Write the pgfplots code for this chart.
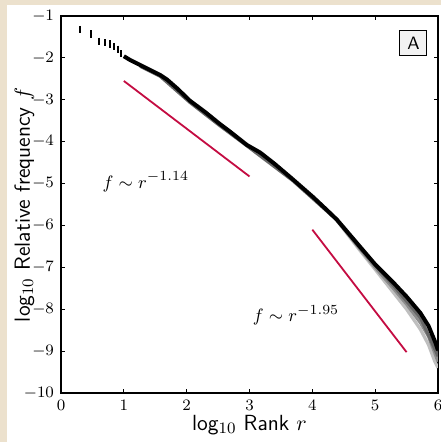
\documentclass[border=0pt]{standalone}
\usepackage{pgfplots}
\pgfplotsset{compat=1.18}

\definecolor{parch}{RGB}{236,225,205}
\definecolor{fitred}{RGB}{196,12,66}

% main rank-frequency curve (log10 r, log10 f)
\pgfplotstableread{
x y
1.00 -1.96
1.10 -2.05
1.26 -2.17
1.42 -2.29
1.58 -2.41
1.69 -2.52
1.85 -2.73
2.05 -3.02
2.30 -3.30
2.53 -3.58
2.69 -3.76
2.96 -4.08
3.17 -4.26
3.40 -4.53
3.69 -4.90
4.01 -5.32
4.23 -5.63
4.39 -5.86
4.76 -6.51
5.00 -6.93
5.30 -7.38
5.50 -7.70
5.72 -8.09
5.85 -8.40
5.96 -8.80
6.00 -8.98
}\maincurve

\begin{document}
\begin{tikzpicture}
\path[use as bounding box] (-30.5bp,-24.5bp) rectangle (190bp,196.5bp);
\fill[parch] (-30.5bp,-24.5bp) rectangle (190bp,196.5bp);
\fill[white] (-27bp,-24.5bp) rectangle (190bp,194bp);
\begin{axis}[
 scale only axis,
 width=188.5bp, height=188.5bp,
 xmin=0, xmax=6, ymin=-10, ymax=-1,
 xtick={0,1,...,6}, ytick={-10,-9,...,-1},
 tick align=inside,
 major tick length=2.2bp,
 axis line style={line width=0.8pt},
 tick style={black, line width=0.5pt},
 tick label style={font=\fontsize{8.5}{10}\selectfont},
 label style={font=\fontsize{11}{13}\selectfont},
 xlabel={\textsf{log}$_{10}$ \textsf{Rank} $r$},
 ylabel={\textsf{log}$_{10}$ \textsf{Relative frequency} $f$},
 xlabel style={at={(axis description cs:0.5,-0.085)}, anchor=center},
 ylabel style={at={(axis description cs:-0.097,0.5)}, anchor=center},
]

% spread of the other samples (grey)
\addplot[black!25, line width=1.6bp] coordinates {
 (4.39,-5.88) (4.76,-6.60) (5.00,-7.05) (5.30,-7.62) (5.50,-8.00)
 (5.72,-8.48) (5.85,-8.85) (5.95,-9.25) (6.00,-9.40)};
\addplot[black!45, line width=1.6bp] coordinates {
 (4.39,-5.87) (4.76,-6.56) (5.00,-7.00) (5.30,-7.52) (5.50,-7.88)
 (5.72,-8.32) (5.85,-8.65) (5.95,-9.05) (6.00,-9.25)};
\addplot[black!60, line width=1.6bp] coordinates {
 (1.26,-2.20) (1.58,-2.44) (2.05,-3.06) (2.53,-3.62) (2.96,-4.10)
 (3.69,-4.93) (4.39,-5.87) (4.76,-6.54) (5.30,-7.45) (5.72,-8.20)
 (5.95,-8.95) (6.00,-9.12)};

% main curve
\addplot[black, line width=2bp] table[x=x, y=y] {\maincurve};

% first ranks as short vertical marks
\addplot[black, only marks, mark=|, mark size=1.8bp, mark options={line width=1bp}] coordinates {
 (0.000,-1.15) (0.301,-1.32) (0.477,-1.43) (0.602,-1.60) (0.699,-1.64)
 (0.778,-1.67) (0.845,-1.73) (0.903,-1.79) (0.954,-1.90)};

% power-law guides
\addplot[fitred, line width=0.9bp] coordinates {(1,-2.55) (3,-4.83)};
\addplot[fitred, line width=0.9bp] coordinates {(4,-6.10) (5.5,-9.025)};

\node[font=\fontsize{9.5}{11}\selectfont] at (axis cs:1.35,-4.96) {$f\sim r^{-1.14}$};
\node[font=\fontsize{9.5}{11}\selectfont] at (axis cs:3.74,-8.14) {$f\sim r^{-1.95}$};

\node[draw=black, fill=black!5, line width=0.5pt, inner sep=0pt,
 minimum width=13.5bp, minimum height=12.5bp,
 font=\sffamily\fontsize{9}{10}\selectfont] at (axis cs:5.61,-1.64) {A};
\end{axis}
\end{tikzpicture}
\end{document}
